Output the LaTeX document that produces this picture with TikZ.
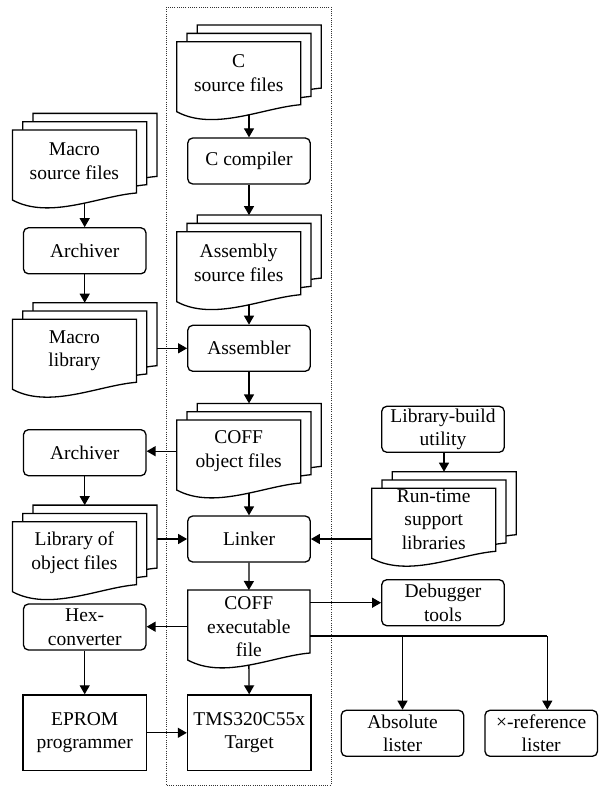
\documentclass[tikz,border=0pt]{standalone}
\usepackage{fontspec}
\setmainfont{Liberation Serif}
\usetikzlibrary{arrows.meta}

\newcommand{\docstack}[4]{%
	\foreach \s in {2,1,0}
		\draw [docline,shift={({10.3*\s},{-8.3*\s})}] (#2,#3) -- ({#2+124},#3) -- ({#2+124},{#3+63})
			.. controls ({#2+86.8},{#3+66}) and ({#2+37.2},{#3+90}) .. (#2,{#3+70}) -- cycle;
	\node [doctext,anchor=north] (#1) at ({#2+62},#3) {#4};
	\coordinate (#1-in) at ({#2+72.3},{#3-16.6});
	\coordinate (#1-out) at ({#2+72.3},{#3+73});
	\coordinate (#1-right) at ({#2+144.6},{#3+31});
}

\begin{document}
\begin{tikzpicture}[x=1pt,y=-1pt,font=\fontsize{19.5}{23.5}\selectfont]
			\tikzstyle{every node}+=[inner sep=0pt]
			\tikzstyle{docline}=[black,line width=1.3pt,fill=white,line join=miter]
			\tikzstyle{doctext}=[align=center,minimum width=124,minimum height=62]
			\tikzstyle{proc}=[draw,line width=1.3pt,rounded corners=5pt,align=center,minimum width=122.5,minimum height=46,fill=white]
			\tikzstyle{plainbox}=[draw,line width=1.3pt,align=center,minimum width=123.5,minimum height=75.7,fill=white]
			\tikzstyle{arr}=[line width=1.3pt,-{Triangle[length=9pt,width=10pt]}]
			\useasboundingbox (0,0) rectangle (600,786);
			\draw [black!80,line width=0.8pt,dash pattern=on 1pt off 1.2pt] (166,7) rectangle (331,785);
			% main column
			\docstack{csrc}{176.7}{41.7}{C\\source files}
			\node [proc] (ccomp) at (249,161) {C compiler};
			\docstack{asrc}{176.7}{231.7}{Assembly\\source files}
			\node [proc] (asm) at (249,348.3) {Assembler};
			\docstack{coffobj}{176.7}{420}{COFF\\object files}
			\node [proc] (linker) at (249,539) {Linker};
			\draw [docline] (187.7,590) -- (310,590) -- (310,653)
				.. controls (273.3,656) and (224.4,680) .. (187.7,660) -- cycle;
			\node [doctext,anchor=north,minimum width=122.3,minimum height=73] (coffexe) at (248.85,590) {COFF\\executable\\file};
			\coordinate (coffexe-out) at (248.85,665);
			\node [plainbox] (target) at (249.2,732.8) {TMS320C55x\\Target};
			% left column
			\docstack{macsrc}{12.4}{130}{Macro\\source files}
			\node [proc] (arch1) at (84.7,250.8) {Archiver};
			\docstack{maclib}{12.4}{319.3}{Macro\\library}
			\node [proc] (arch2) at (84.7,452.7) {Archiver};
			\docstack{libobj}{12.4}{521.7}{Library of\\object files}
			\node [proc] (hexconv) at (84.7,627) {Hex-\\converter};
			\node [plainbox] (eprom) at (84.7,732.8) {EPROM\\programmer};
			% right side
			\node [proc] (libbuild) at (443,429.3) {Library-build\\utility};
			\docstack{rts}{371.7}{488.3}{Run-time\\support\\libraries}
			\node [proc] (debug) at (443,602.7) {Debugger\\tools};
			\node [proc] (abslist) at (402.5,733.3) {Absolute\\lister};
			\node [proc,minimum width=112.5] (xref) at (541.2,733.3) {×-reference\\lister};
			\coordinate (lst) at (547.3,636);
			% connectors
			\draw [arr] (csrc-out) -- (ccomp.north);
			\draw [arr] (ccomp.south) -- (asrc-in);
			\draw [arr] (asrc-out) -- (asm.north);
			\draw [arr] (asm.south) -- (coffobj-in);
			\draw [arr] (coffobj-out) -- (linker.north);
			\draw [arr] (linker.south) -- (coffexe.north);
			\draw [arr] (coffexe-out) -- (target.north);
			\draw [arr] (macsrc-out) -- (arch1.north);
			\draw [arr] (arch1.south) -- (maclib-in);
			\draw [arr] (maclib-right |- asm.west) -- (asm.west);
			\draw [arr] (coffobj.west) -- (coffobj.west -| arch2.east);
			\draw [arr] (arch2.south) -- (libobj-in);
			\draw [arr] (libobj-right |- linker.west) -- (linker.west);
			\draw [arr] (rts.west |- linker.east) -- (linker.east);
			\draw [arr] (rts-in |- libbuild.south) -- (rts-in);
			\draw [arr] (coffexe.west) -- (coffexe.west -| hexconv.east);
			\draw [arr] (hexconv) -- (eprom);
			\draw [arr] (eprom) -- (target);
			\draw [arr] (coffexe.east |- debug.west) -- (debug.west);
			\draw [line width=1.3pt] (coffexe.east |- lst) -- (lst);
			\draw [arr] (abslist.north |- lst) -- (abslist.north);
			\draw [arr] (lst) -- (lst |- xref.north);
		\end{tikzpicture}
\end{document}
